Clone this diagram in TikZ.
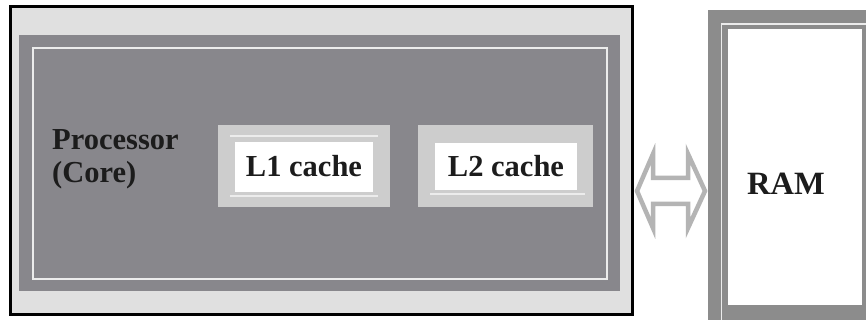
\documentclass[tikz,border=0pt]{standalone}
\usepackage{fontspec}
\setmainfont{Liberation Serif}
\usetikzlibrary{calc}
\begin{document}
\begin{tikzpicture}[x=1pt,y=-1pt,
  rect/.style={inner sep=0pt, outer sep=0pt, rectangle},
  lbl/.style={font=\bfseries\fontsize{30.5}{33}\selectfont, text=txt, inner sep=0pt},
  wline/.style={draw=wl, line width=1.8pt}]
\definecolor{tex}{HTML}{E0E0E0}
\definecolor{dk}{HTML}{88878C}
\definecolor{lg}{HTML}{CDCDCD}
\definecolor{wl}{HTML}{ECECEC}
\definecolor{txt}{HTML}{1C1C1C}
\definecolor{ramg}{HTML}{8C8C8C}
\definecolor{arr}{HTML}{B4B4B4}
\useasboundingbox (0,0) rectangle (866,320);
\fill[white] (0,0) rectangle (866,320);
% processor package
\node[rect, draw=black, line width=3pt, fill=tex, minimum width=622pt, minimum height=307pt] (proc) at (321,160.5) {};
\node[rect, fill=dk, minimum width=601pt, minimum height=256pt] (core) at (319.5,163) {};
\node[rect, draw=wl, line width=1.8pt, minimum width=574pt, minimum height=231pt] (coreline) at (320,163.5) {};
% L1
\node[rect, fill=lg, minimum width=172pt, minimum height=82pt] (l1o) at (304,166) {};
\draw[wline] (230,136) -- (378,136);
\draw[wline] (230,196) -- (378,196);
\node[rect, fill=white, minimum width=138pt, minimum height=50pt] (l1) at (304,167) {};
\node[lbl] (l1t) at (304,166) {L1 cache};
% L2
\node[rect, fill=lg, minimum width=175pt, minimum height=82pt] (l2o) at (505.5,166) {};
\draw[wline] (430,194) -- (585,194);
\node[rect, fill=white, minimum width=142pt, minimum height=47pt] (l2) at (506,166.5) {};
\node[lbl] (l2t) at (506,166) {L2 cache};
% processor label
\node[lbl, align=left, anchor=north west] (ptxt) at (52,129) {Processor\\(Core)};
% RAM
\node[rect, fill=ramg, minimum width=170pt, minimum height=320pt] (ram) at (793,170) {};
\draw[draw=wl, line width=1.8pt] (721.5,330) -- (721.5,24) -- (870,24);
\node[rect, fill=white, minimum width=134pt, minimum height=276pt] (raminner) at (795,167) {};
\node[lbl, font=\bfseries\fontsize{32.5}{35}\selectfont] (ramt) at (786,184) {RAM};
% double arrow
\coordinate (aL) at (637,191);
\coordinate (aR) at (705,191);
\draw[draw=arr, line width=4.5pt, fill=white, line join=miter]
  (aL) -- ++(16,-37) -- ++(0,24) -- ($(aR)+(-17,-13)$) -- ++(0,-24) -- (aR)
  -- ++(-17,37) -- ++(0,-24) -- ($(aL)+(16,13)$) -- ++(0,24) -- cycle;
\end{tikzpicture}
\end{document}
